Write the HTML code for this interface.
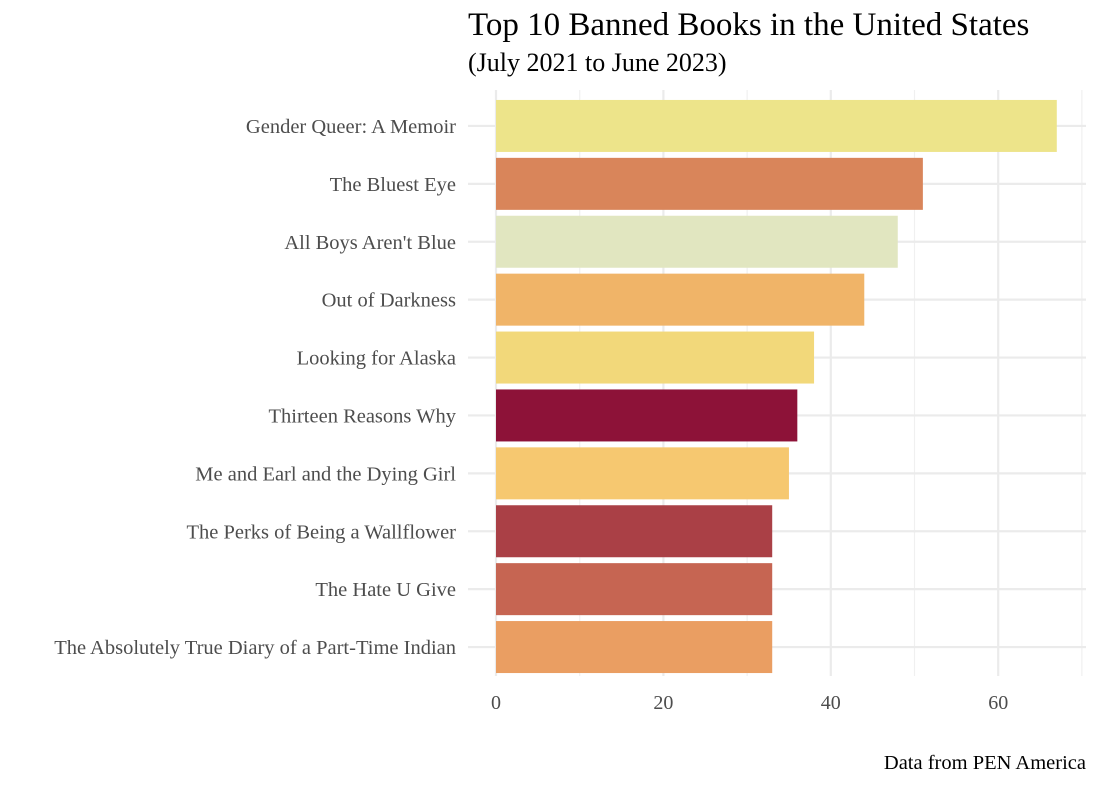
<!DOCTYPE html>
<html><head><meta charset="utf-8"><style>
body{margin:0;background:#fff;}
svg text{font-family:"Liberation Serif",serif;}
</style></head><body>
<svg id="chart" width="1100" height="786" xmlns="http://www.w3.org/2000/svg">
<text x="468" y="35" font-size="33" fill="#000">Top 10 Banned Books in the United States</text>
<text x="468" y="71" font-size="26" fill="#000">(July 2021 to June 2023)</text>
<text x="1086" y="769" font-size="20.5" text-anchor="end" fill="#000">Data from PEN America</text>
<g id="grid"></g><g id="bars"></g><g id="labels"></g>
</svg>
<script>
const categories=["Gender Queer: A Memoir","The Bluest Eye","All Boys Aren't Blue","Out of Darkness","Looking for Alaska","Thirteen Reasons Why","Me and Earl and the Dying Girl","The Perks of Being a Wallflower","The Hate U Give","The Absolutely True Diary of a Part-Time Indian"];
const values=[67,51,48,44,38,36,35,33,33,33];
const colors=["#EDE48A","#D9855A","#E1E6C0","#F0B468","#F2D87A","#8D1238","#F6C870","#AA4046","#C66552","#EA9E62"];
const xTicks=[0,20,40,60];
const xMinor=[10,30,50,70];
const NS="http://www.w3.org/2000/svg";
const x0=496,pxPer=8.37,plotTop=97,step=57.9,bh=52,plotLeft=468,plotRight=1086,plotBottom=676;
const X=v=>x0+v*pxPer;
const Y=i=>plotTop+i*step+step/2;
function mk(t,a,p){const e=document.createElementNS(NS,t);for(const k in a)e.setAttribute(k,a[k]);p.appendChild(e);return e;}
const g=document.getElementById('grid'),b=document.getElementById('bars'),l=document.getElementById('labels');
xMinor.forEach(v=>{const e=mk('line',{x1:X(v),x2:X(v),y1:90,y2:plotBottom,stroke:'#f0f0f0','stroke-width':1.2},g);

});
xTicks.forEach(v=>{const e=mk('line',{x1:X(v),x2:X(v),y1:90,y2:plotBottom,stroke:'#ebebeb','stroke-width':2.2},g);


const t=mk('text',{x:X(v),y:709,'font-size':20,'text-anchor':'middle',fill:'#4d4d4d'},l);t.textContent=v;

});
categories.forEach((c,i)=>{const y=Y(i);
const gl=mk('line',{x1:plotLeft,x2:plotRight,y1:y,y2:y,stroke:'#ebebeb','stroke-width':2.2},g);


const r=mk('rect',{x:X(0),y:y-bh/2,width:X(values[i])-X(0),height:bh,fill:colors[i]},b);


const t=mk('text',{x:456,y:y+7,'font-size':20.5,'text-anchor':'end',fill:'#4d4d4d'},l);t.textContent=c;

});
</script>
</body></html>
